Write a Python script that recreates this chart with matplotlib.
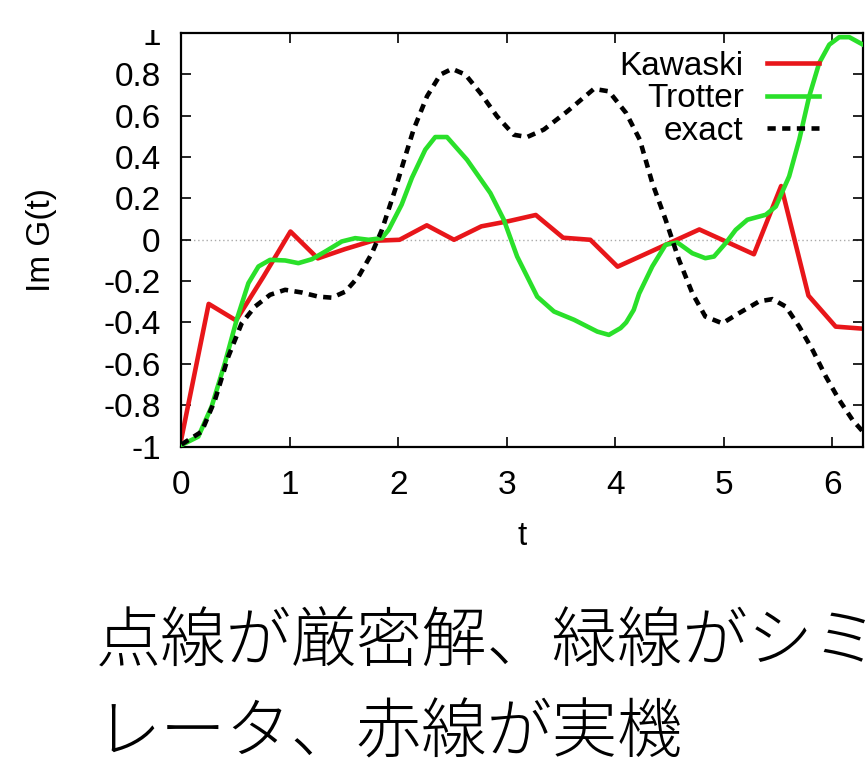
import matplotlib
matplotlib.use("Agg")
import matplotlib.pyplot as plt
from matplotlib.patches import Rectangle
from matplotlib.ticker import FuncFormatter

plt.rcParams['font.family'] = ['Liberation Sans', 'DejaVu Sans']
plt.rcParams['axes.unicode_minus'] = False

# Kawaski run: one point every 2*pi/25
t_kawaski = [0.0, 0.251, 0.503, 0.754, 1.005, 1.257, 1.508, 1.759, 2.011, 2.262,
             2.513, 2.765, 3.016, 3.267, 3.519, 3.770, 4.021, 4.273, 4.524, 4.775,
             5.027, 5.278, 5.529, 5.781, 6.032, 6.283]
kawaski = [-0.96, -0.31, -0.39, -0.18, 0.04, -0.09, -0.045, -0.005, 0.0, 0.07,
           0.0, 0.065, 0.09, 0.12, 0.01, 0.0, -0.13, -0.07, -0.01, 0.05,
           -0.01, -0.07, 0.26, -0.27, -0.42, -0.43]

# Trotter simulation
t_trotter = [0.0, 0.155, 0.278, 0.40, 0.509, 0.617, 0.71, 0.817, 0.956, 1.078,
             1.202, 1.325, 1.479, 1.602, 1.725, 1.848, 1.91, 2.03, 2.125, 2.248,
             2.34, 2.448, 2.633, 2.848, 2.972, 3.095, 3.28, 3.435, 3.62, 3.834,
             3.941, 4.049, 4.10, 4.17, 4.22, 4.341, 4.464, 4.572, 4.71, 4.83,
             4.91, 5.018, 5.11, 5.218, 5.387, 5.48, 5.603, 5.696, 5.788, 5.88,
             5.973, 6.065, 6.158, 6.283]
trotter = [-0.993, -0.952, -0.807, -0.597, -0.387, -0.21, -0.129, -0.097, -0.10, -0.113,
           -0.094, -0.057, -0.008, 0.008, 0.0, 0.008, 0.048, 0.17, 0.30, 0.436,
           0.497, 0.497, 0.387, 0.226, 0.097, -0.081, -0.275, -0.347, -0.387, -0.444,
           -0.46, -0.427, -0.40, -0.339, -0.26, -0.129, -0.024, -0.013, -0.065, -0.089,
           -0.081, -0.016, 0.048, 0.097, 0.121, 0.161, 0.307, 0.484, 0.694, 0.855,
           0.944, 0.98, 0.98, 0.944]

# exact solution
t_exact = [0.0, 0.186, 0.309, 0.432, 0.555, 0.678, 0.817, 0.956, 1.11, 1.263,
           1.386, 1.51, 1.633, 1.756, 1.848, 1.97, 2.063, 2.14, 2.264, 2.387,
           2.495, 2.618, 2.756, 2.91, 3.064, 3.187, 3.341, 3.557, 3.803, 3.941,
           4.10, 4.226, 4.341, 4.464, 4.587, 4.71, 4.83, 4.987, 5.14, 5.326,
           5.449, 5.572, 5.696, 5.819, 5.942, 6.065, 6.188, 6.283]
exact = [-0.99, -0.928, -0.775, -0.565, -0.404, -0.323, -0.266, -0.242, -0.255, -0.275,
         -0.28, -0.251, -0.178, -0.065, 0.048, 0.242, 0.403, 0.533, 0.694, 0.799,
         0.827, 0.799, 0.71, 0.597, 0.508, 0.497, 0.533, 0.621, 0.73, 0.718,
         0.613, 0.484, 0.275, 0.097, -0.097, -0.258, -0.371, -0.404, -0.355, -0.298,
         -0.287, -0.323, -0.42, -0.533, -0.662, -0.775, -0.872, -0.928]

xticks = [0, 1, 2, 3, 4, 5, 6]
yticks = [-1, -0.8, -0.6, -0.4, -0.2, 0, 0.2, 0.4, 0.6, 0.8, 1]

caption_1 = '点線が厳密解、緑線がシミュ'
caption_2 = 'レータ、赤線が実機'

fig = plt.figure(figsize=(8.67, 7.65), dpi=100)
ax = fig.add_axes([0.2093, 0.4163, 0.7860, 0.5405])

ax.axhline(0, color='#aaaaaa', lw=1.0, ls=(0, (1, 2)), zorder=1)
ax.plot(t_kawaski, kawaski, color='#e8161a', lw=3.3, label='Kawaski', zorder=2)
ax.plot(t_trotter, trotter, color='#2ae02a', lw=3.3, label='Trotter', zorder=3)
ax.plot(t_exact, exact, color='black', lw=3.3, ls=(0, (1.8, 1.4)), label='exact', zorder=4)

ax.set_xlim(0, 6.2832)
ax.set_ylim(-1, 1)
ax.set_xticks(xticks)
ax.set_yticks(yticks)
ax.yaxis.set_major_formatter(FuncFormatter(lambda v, p: '%g' % v))
ax.tick_params(direction='in', length=7, width=1.2, labelsize=24,
               top=True, right=True)
ax.tick_params(axis='y', pad=15)
ax.tick_params(axis='x', pad=17)
for s in ax.spines.values():
    s.set_linewidth(1.6)

ax.set_xlabel('t', fontsize=24, labelpad=14)
ax.set_ylabel('Im G(t)', fontsize=24, labelpad=33)

ax.legend(loc='upper right', bbox_to_anchor=(0.935, 0.957), frameon=False,
          markerfirst=False, fontsize=24, handlelength=1.55, handletextpad=0.7,
          labelspacing=0.05, borderpad=0, borderaxespad=0)

# blank band along the top edge
fig.patches.append(Rectangle((0, 735 / 765), 1, 30 / 765, transform=fig.transFigure,
                             facecolor='white', edgecolor='none', zorder=10))

cjk = ['Noto Sans CJK JP', 'DejaVu Sans']
fig.text(0.110, 0.135, caption_1, fontsize=47, family=cjk, fontweight='light',
         ha='left', va='baseline')
fig.text(0.110, 0.016, caption_2, fontsize=47, family=cjk, fontweight='light',
         ha='left', va='baseline')

fig.savefig('out.png', dpi=100)
